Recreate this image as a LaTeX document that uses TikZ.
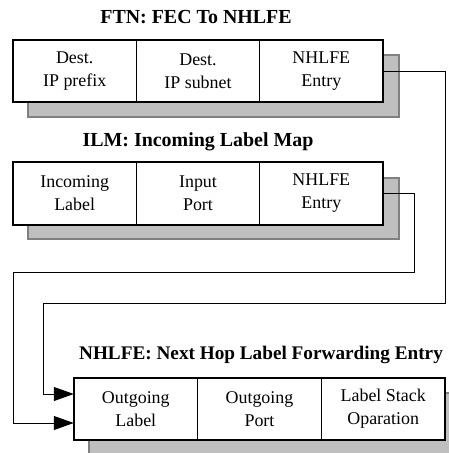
\documentclass[tikz,border=0pt]{standalone}
\usepackage{fontspec}
\setmainfont{Liberation Serif}
\usetikzlibrary{arrows.meta}
\begin{document}
\begin{tikzpicture}[x=1bp,y=-1bp,
  cell/.style={draw, line width=0.8bp, minimum width=123.3bp, minimum height=62bp, inner sep=0pt, align=center, font=\fontsize{18}{23}\selectfont},
  frame/.style={draw, line width=2bp},
  shadow/.style={draw=black!50, line width=1.5bp, fill=black!25},
  title/.style={font=\fontsize{20}{24}\selectfont\bfseries, inner sep=0pt},
  conn/.style={line width=0.9bp},
  arr/.style={conn, -{Triangle[length=20bp,width=14bp]}}]
\useasboundingbox (0,0) rectangle (449,453);
% FTN
\node[title] (t1) at (196,17) {FTN: FEC To NHLFE};
\draw[shadow] (28,55) rectangle (399,117);
\node[cell, fill=white] (f1) at (74.7,71) {Dest.\\IP prefix};
\node[cell, fill=white] (f2) at (198,71) {Dest.\\IP subnet};
\node[cell, fill=white] (f3) at (321.3,71) {NHLFE\\Entry};
\draw[frame] (f1.north west) rectangle (f3.south east);
% ILM
\node[title] (t2) at (198,142) {ILM: Incoming Label Map};
\draw[shadow] (28,178) rectangle (399,239);
\node[cell, fill=white] (i1) at (74.7,193.5) {Incoming\\Label};
\node[cell, fill=white] (i2) at (198,193.5) {Input\\Port};
\node[cell, fill=white] (i3) at (321.3,193.5) {NHLFE\\Entry};
\draw[frame] (i1.north west) rectangle (i3.south east);
% NHLFE
\node[title, font=\fontsize{19.3}{23}\selectfont\bfseries] (t3) at (261,355) {NHLFE: Next Hop Label Forwarding Entry};
\draw[shadow] (89,393) rectangle (460,460);
\node[cell, fill=white] (n1) at (135.8,409) {Outgoing\\Label};
\node[cell, fill=white] (n2) at (259.5,409) {Outgoing\\Port};
\node[cell, fill=white] (n3) at (383.2,409) {Label Stack\\Oparation};
\draw[frame] (n1.north west) rectangle (n3.south east);
% connectors
\draw[arr] (f3.east) -- ++(62,0) |- (43,303) |- ([yshift=15bp]n1.west);
\draw[arr] (i3.east) -- ++(31,0) |- (13,272) |- ([yshift=-14bp]n1.west);
\end{tikzpicture}
\end{document}
